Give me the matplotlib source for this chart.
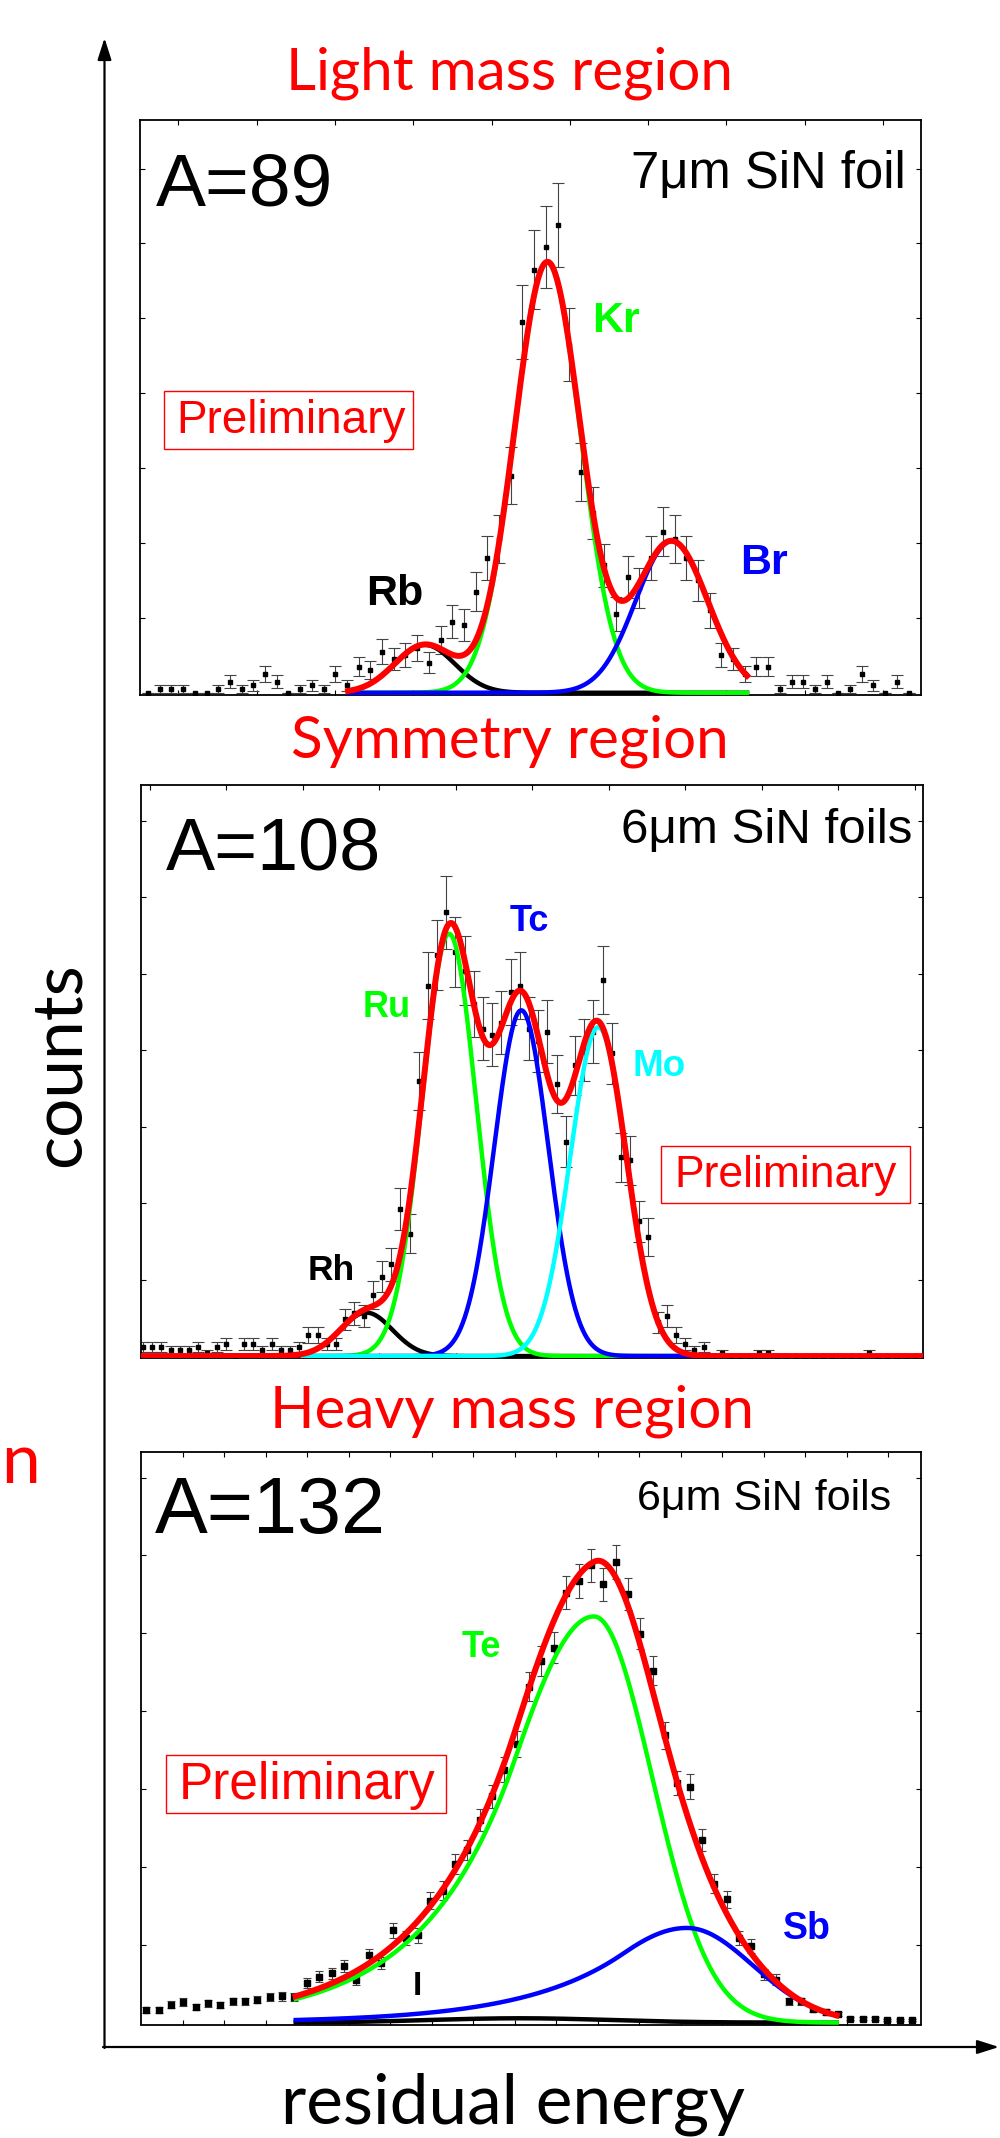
import numpy as np
import matplotlib
matplotlib.use('Agg')
import matplotlib.pyplot as plt
from matplotlib.patches import Rectangle

# counts per channel
counts_89 = [0, 1, 1, 1, 0, 0, 1, 3, 1, 2, 5, 3, 0, 1, 2, 1, 5, 2, 7, 6,
             11, 9, 10, 12, 8, 14, 19, 18, 27, 36, 41, 58, 99, 113, 119, 125, 93, 59, 48, 34,
             21, 31, 28, 36, 43, 41, 36, 30, 22, 10, 9, 5, 7, 7, 1, 3, 3, 1, 3, 0,
             1, 5, 2, 0, 3, 0]
counts_108 = [3, 3, 3, 2, 2, 2, 3, 1, 3, 4, 0, 4, 4, 2, 4, 2, 2, 3, 7, 7,
              4, 4, 12, 14, 13, 20, 26, 30, 48, 40, 90, 121, 131, 145, 132, 126, 115, 107, 105, 109,
              119, 121, 107, 103, 106, 89, 70, 95, 100, 106, 123, 99, 65, 64, 44, 39, 11, 13, 7, 4,
              2, 3, 0, 1, 0, 0, 0, 1, 1, 0, 0, 0, 0, 0, 0, 0, 0, 0, 0, 1,
              0, 0, 0, 0, 0]
counts_132 = [20, 20, 29, 33, 25, 31, 28, 34, 34, 37, 41, 42, 41, 63, 74, 79, 91, 68, 108, 96,
              148, 136, 140, 196, 212, 255, 277, 325, 363, 406, 447, 539, 581, 602, 690, 709, 734, 704, 739, 688,
              624, 565, 461, 385, 379, 293, 223, 198, 136, 123, 78, 69, 34, 34, 22, 17, 14, 6, 6, 6,
              4, 4, 4]

# fit components: (amplitude, centre, sigma) in channels
rb_89 = (12.8, 23.65, 2.56)
kr_89 = (115.0, 34.13, 2.82)
br_89 = (40.5, 44.76, 3.08)
rh_108 = (14.2, 24.3, 2.83)
ru_108 = (138.0, 33.3, 2.94)
tc_108 = (113.0, 41.16, 2.94)
mo_108 = (107.5, 49.54, 3.05)
# A=132: (amplitude, centre, sigma left, sigma right, tail slope)
i_132 = (7.0, 30.26, 7.29)
te_132 = (652.0, 36.25, 6.88, 4.70, 0.136)
sb_132 = (152.0, 43.76, 6.48, 5.34, 0.1235)


def gaus(x, amp, mu, sig):
    return amp * np.exp(-0.5 * ((x - mu) / sig) ** 2)


def tail_gaus(x, amp, mu, sl, sr, lam):
    d = mu - x
    d0 = lam * sl ** 2
    left = np.where(d <= d0, np.exp(-0.5 * (d / sl) ** 2),
                    np.exp(-0.5 * (d0 / sl) ** 2 - lam * (d - d0)))
    right = np.exp(-0.5 * (d / sr) ** 2)
    return amp * np.where(d > 0, left, right)


W, H = 1000, 2138
fig = plt.figure(figsize=(W / 100, H / 100), dpi=100)


def panel(x0, y0, x1, y1):
    ax = fig.add_axes([x0 / W, 1 - y1 / H, (x1 - x0) / W, (y1 - y0) / H])
    ax.set_facecolor('none')
    for s in ax.spines.values():
        s.set_linewidth(1.3)
    ax.tick_params(direction='in', length=3.5, width=0.8, top=True, right=True,
                   labelbottom=False, labelleft=False)
    return ax


def points(ax, counts, ms, cap):
    ch = np.arange(len(counts))
    c = np.array(counts, dtype=float)
    ax.errorbar(ch, c, yerr=np.sqrt(c), fmt='s', ms=ms, mfc='black', mec='black',
                ecolor='#444444', elinewidth=0.8, capsize=cap, capthick=0.8, zorder=2)


lw_c, lw_r = 3.2, 4.3

# ---- A=89
ax1 = panel(139.7, 120.3, 920.7, 695.0)
points(ax1, counts_89, 2.8, 4)
xf = np.linspace(17.1, 51.2, 400)
ax1.plot(xf, gaus(xf, *rb_89), color='black', lw=lw_c, zorder=3)
ax1.plot(xf, gaus(xf, *kr_89), color='#00ff00', lw=lw_c, zorder=3)
ax1.plot(xf, gaus(xf, *br_89), color='#0000ff', lw=lw_c, zorder=3)
ax1.plot(xf, gaus(xf, *rb_89) + gaus(xf, *kr_89) + gaus(xf, *br_89), color='red', lw=lw_r, zorder=4)
ax1.set_xlim(-0.71, 66.04)
ax1.set_ylim(-0.6, 152.9)
ax1.set_xticks(np.arange(2.6, 66, 6.69))
ax1.set_yticks(np.arange(20, 150, 20))

# ---- A=108
ax2 = panel(140.7, 785.4, 923.3, 1358.2)
points(ax2, counts_108, 2.8, 4)
xf = np.linspace(17.4, 70, 500)
ax2.plot(xf, gaus(xf, *rh_108), color='black', lw=lw_c, zorder=3)
ax2.plot(xf, gaus(xf, *ru_108), color='#00ff00', lw=lw_c, zorder=3)
ax2.plot(xf, gaus(xf, *tc_108), color='#0000ff', lw=lw_c, zorder=3)
ax2.plot(xf, gaus(xf, *mo_108), color='#00ffff', lw=lw_c, zorder=3)
xr = np.linspace(-0.25, 84.9, 800)
tot = gaus(xr, *rh_108) + gaus(xr, *ru_108) + gaus(xr, *tc_108) + gaus(xr, *mo_108)
ax2.plot(xr, tot, color='red', lw=lw_r, zorder=4)
ax2.set_xlim(-0.25, 84.9)
ax2.set_ylim(-0.7, 186.5)
ax2.set_xticks(np.arange(0.76, 85, 8.32))
ax2.set_yticks(np.arange(25, 186, 25))

# ---- A=132
ax3 = panel(141.3, 1452.0, 920.7, 2024.5)
points(ax3, counts_132, 4.4, 3)
xf = np.linspace(12.1, 55.9, 500)
ax3.plot(xf, gaus(xf, *i_132), color='black', lw=lw_c, zorder=3)
ax3.plot(xf, tail_gaus(xf, *te_132), color='#00ff00', lw=lw_c, zorder=3)
ax3.plot(xf, tail_gaus(xf, *sb_132), color='#0000ff', lw=lw_c, zorder=3)
ax3.plot(xf, gaus(xf, *i_132) + tail_gaus(xf, *te_132) + tail_gaus(xf, *sb_132),
         color='red', lw=lw_r, zorder=4)
ax3.set_xlim(-0.4, 62.7)
ax3.set_ylim(-3, 916)
ax3.set_xticks(np.arange(2.97, 62.7, 3.36))
ax3.set_yticks(np.arange(125, 900, 125))

# ---- overlay in pixel coordinates for texts and arrows
ov = fig.add_axes([0, 0, 1, 1])
ov.set_xlim(0, W)
ov.set_ylim(H, 0)
ov.axis('off')
ov.set_zorder(10)

ov.annotate('', xy=(104.5, 38), xytext=(104.5, 2048),
            arrowprops=dict(arrowstyle='-|>,head_length=1.1,head_width=0.35', lw=1.6,
                            color='black', mutation_scale=12, shrinkA=0, shrinkB=0))
ov.annotate('', xy=(999, 2047), xytext=(103, 2047),
            arrowprops=dict(arrowstyle='-|>,head_length=1.1,head_width=0.35', lw=1.6,
                            color='black', mutation_scale=12, shrinkA=0, shrinkB=0))

tf = 'Lato'
ov.text(509.5, 89.5, 'Light mass region', color='red', fontsize=42, family=tf, ha='center', va='baseline')
ov.text(509.6, 757, 'Symmetry region', color='red', fontsize=42, family=tf, ha='center', va='baseline')
ov.text(512, 1428, 'Heavy mass region', color='red', fontsize=42, family=tf, ha='center', va='baseline')
ov.text(1, 1483, 'n', color='red', fontsize=50, family=tf, ha='left', va='baseline')
ov.text(80, 1065, 'counts', fontsize=50, family=tf, rotation=90, rotation_mode='anchor',
        ha='center', va='baseline')
ov.text(513, 2124, 'residual energy', fontsize=50, family=tf, ha='center', va='baseline')

af = 'Liberation Sans'
ov.text(156, 206, 'A=89', fontsize=54, family=af, va='baseline')
ov.text(165.8, 870, 'A=108', fontsize=53, family=af, va='baseline')
ov.text(155, 1533, 'A=132', fontsize=57, family=af, va='baseline')
ov.text(905.6, 188.2, '7\u03bcm SiN foil', fontsize=36.5, family=af, ha='right', va='baseline')
ov.text(912, 843, '6\u03bcm SiN foils', fontsize=35.5, family=af, ha='right', va='baseline')
ov.text(891.6, 1509.8, '6\u03bcm SiN foils', fontsize=31, family=af, ha='right', va='baseline')

# Preliminary stamps
for (bx0, by0, bx1, by1), (tx, ty), fs in [((164, 391.4, 413.3, 448.9), (176.3, 433), 33),
                                           ((661, 1145.6, 910.3, 1202.9), (674, 1186.5), 32),
                                           ((165.7, 1755.2, 446.3, 1812.7), (178.7, 1799.2), 37)]:
    ov.add_patch(Rectangle((bx0, by0), bx1 - bx0, by1 - by0, fill=False, ec='red', lw=1.0))
    ov.text(tx, ty, 'Preliminary', color='red', fontsize=fs, family=af, va='baseline')

# isotope labels
labels = [('Kr', 591.7, 331.6, '#00ff00', 31), ('Br', 740, 574, '#0000ff', 31),
          ('Rb', 366.3, 605.4, 'black', 31), ('Ru', 363, 1017, '#00ff00', 26),
          ('Tc', 510, 930.7, '#0000ff', 26), ('Mo', 632.7, 1076.3, '#00ffff', 26.5),
          ('Rh', 308, 1279.7, 'black', 25.5), ('Te', 462, 1657.2, '#00ff00', 26),
          ('Sb', 783.3, 1938.8, '#0000ff', 27), ('I', 413, 1995.3, 'black', 24)]
for t, x, y, c, fs in labels:
    ov.text(x, y, t, color=c, fontsize=fs, family=af, weight='bold', va='baseline')

fig.savefig('out.png', dpi=100)
